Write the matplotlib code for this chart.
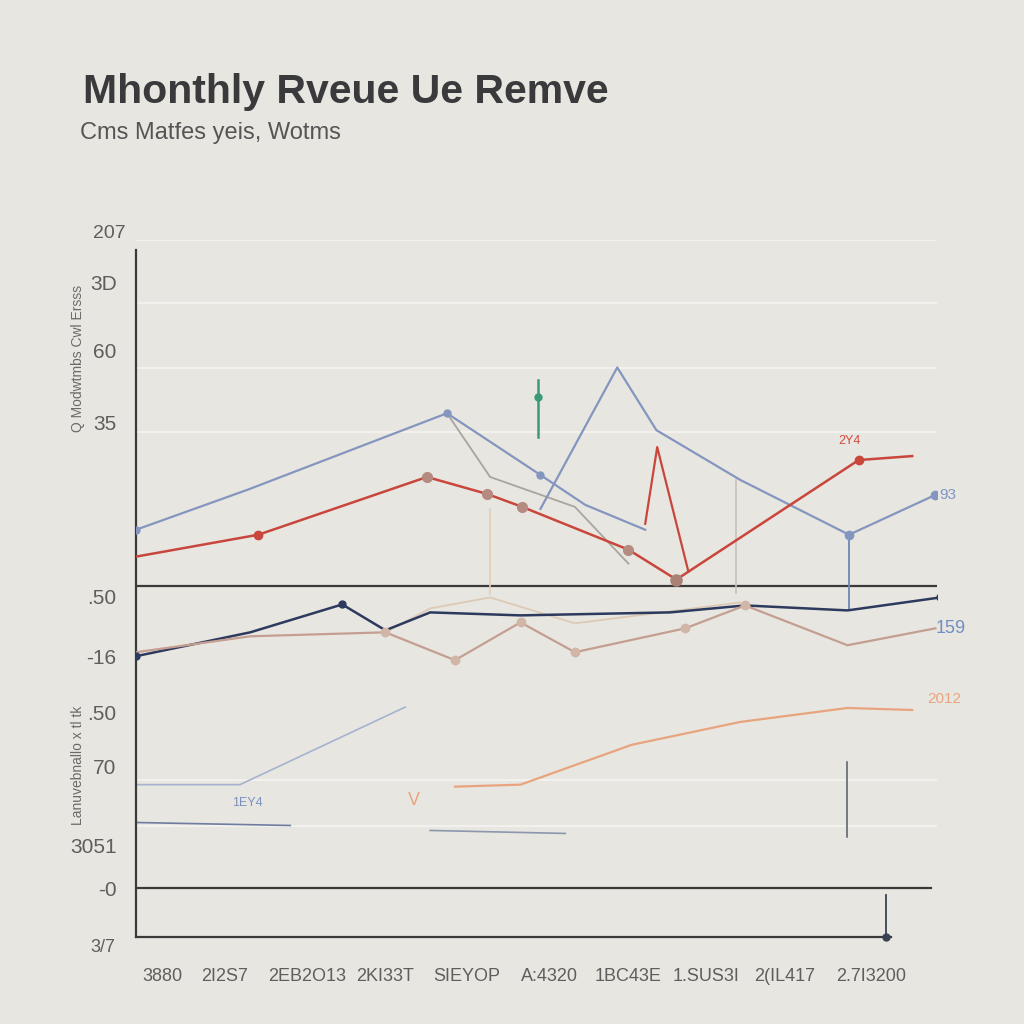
import matplotlib.pyplot as plt

plt.rcParams['font.family'] = ['Liberation Sans', 'DejaVu Sans']

BG = '#e8e6e0'

# months along x (index), revenue values on y
blue_x = [0, 1.39, 3.89, 5.06, 5.62, 6.37]
blue_y = [40.9, 44.9, 52.6, 46.4, 43.4, 40.9]
blue2_x = [5.06, 6.02, 6.51, 7.56, 8.92, 10.0]
blue2_y = [43.0, 57.2, 50.9, 45.9, 40.4, 44.4]

red_x = [0, 1.53, 3.64, 4.39, 4.83, 6.16, 6.76, 9.04, 9.71]
red_y = [38.2, 40.4, 46.2, 44.5, 43.2, 38.9, 35.9, 47.9, 48.3]
red_spike_x = [6.37, 6.52, 6.91]
red_spike_y = [41.5, 49.2, 36.7]

grey_x = [3.89, 4.43, 5.49, 6.16]
grey_y = [52.6, 46.2, 43.2, 37.5]

navy_x = [0, 1.43, 2.58, 3.12, 3.68, 4.81, 6.68, 7.62, 8.90, 10.06]
navy_y = [28.2, 30.6, 33.4, 30.8, 32.6, 32.3, 32.6, 33.3, 32.8, 34.1]

tan_x = [0, 1.43, 3.12, 3.99, 4.81, 5.49, 6.87, 7.62, 8.90, 10.0]
tan_y = [28.6, 30.2, 30.6, 27.8, 31.6, 28.6, 31.0, 33.3, 29.3, 31.0]

beige_x = [3.12, 3.68, 4.43, 5.49, 7.56]
beige_y = [30.6, 33.0, 34.1, 31.5, 33.6]

orange_x = [3.99, 4.81, 6.2, 7.56, 8.90, 9.71]
orange_y = [15.1, 15.3, 19.3, 21.6, 23.0, 22.8]

lblue_x = [0, 1.3, 3.37]
lblue_y = [15.3, 15.3, 23.1]
lblue2_x = [0, 1.93]
lblue2_y = [11.5, 11.2]
lblue3_x = [3.68, 5.37]
lblue3_y = [10.7, 10.4]

green_x = [5.03, 5.03]
green_y = [50.2, 55.9]

ytick_vals = [65.7, 58.9, 51.7, 34.2, 28.2, 22.5, 17.1, 9.2, 4.9]
ytick_labels = ['3D', '60', '35', '.50', '-16', '.50', '70', '3051', '-0']

xtick_vals = [0.33, 1.11, 2.14, 3.12, 4.14, 5.17, 6.15, 7.13, 8.12, 9.19]
xtick_labels = ['3880', '2I2S7', '2EB2O13', '2KI33T', 'SIEYOP', 'A:4320',
                '1BC43E', '1.SUS3I', '2(IL417', '2.7I3200']

grid_vals = [70, 63.7, 57.1, 50.7, 15.8, 11.1]

fig = plt.figure(figsize=(10.24, 10.24), dpi=100, facecolor=BG)
ax = fig.add_axes([136 / 1024, 87 / 1024, 801 / 1024, 697 / 1024])
ax.set_facecolor(BG)
ax.set_xlim(0, 10.02)
ax.set_ylim(0, 70)

for g in grid_vals:
    ax.axhline(g, color='#f5f4f1', lw=1.2, zorder=0)
ax.axhline(35.3, color='#3a3a3a', lw=1.6, zorder=1)
ax.plot([0.02, 9.95], [4.9, 4.9], color='#3a3a3a', lw=1.6, zorder=1)

ax.plot(blue_x, blue_y, color='#8496bf', lw=1.6, marker='o', ms=5,
        markevery=[0, 2, 3], zorder=3)
ax.plot(blue2_x, blue2_y, color='#8496bf', lw=1.6, zorder=3)
ax.plot(blue2_x[4:], blue2_y[4:], 'o', color='#8496bf', ms=6, zorder=4)
ax.plot(grey_x, grey_y, color='#9a948c', lw=1.3, alpha=0.8, zorder=2)
ax.plot(red_x, red_y, color='#c9463d', lw=1.8, marker='o', ms=6,
        markevery=[1, 7], zorder=3)
ax.plot(red_spike_x, red_spike_y, color='#c9463d', lw=1.6, zorder=3)
ax.plot(red_x[2:6], red_y[2:6], 'o', color='#b58a80', ms=7, zorder=4)
ax.plot([6.76], [35.9], 'o', color='#a98275', ms=8, zorder=4)
ax.plot(green_x, green_y, color='#3a9a7a', lw=1.8, zorder=3)
ax.plot([5.03], [54.2], 'o', color='#3a9a7a', ms=5, zorder=4)

ax.plot(navy_x, navy_y, color='#2c3a5e', lw=1.8, zorder=3)
ax.plot([0, 2.58, 10.06], [28.2, 33.4, 34.1], 'o', color='#2c3a5e', ms=5, zorder=4)
ax.plot(tan_x, tan_y, color='#c49f91', lw=1.6, zorder=3)
ax.plot(tan_x[2:8], tan_y[2:8], 'o', color='#d1b5a6', ms=6, zorder=4)
ax.plot(beige_x, beige_y, color='#dccab6', lw=1.3, zorder=2)

ax.plot(orange_x, orange_y, color='#e8a47e', lw=1.6, zorder=3)
ax.plot(lblue_x, lblue_y, color='#a6b2cf', lw=1.2, zorder=2)
ax.plot(lblue2_x, lblue2_y, color='#6f7da0', lw=1.2, zorder=2)
ax.plot(lblue3_x, lblue3_y, color='#8c96ad', lw=1.2, zorder=2)

# faint vertical leaders
ax.plot([8.92, 8.92], [40.4, 32.8], color='#6f86b5', lw=1.3, zorder=2)
ax.plot([8.90, 8.90], [17.6, 10.0], color='#555b66', lw=1.1, zorder=2)
ax.plot([4.43, 4.43], [43.0, 34.4], color='#e2cdb9', lw=1.2, zorder=2)
ax.plot([7.5, 7.5], [45.9, 34.5], color='#c8c1bb', lw=1.2, zorder=2)
ax.plot([9.38, 9.38], [4.2, 0], color='#3a4256', lw=1.3, zorder=2)
ax.plot([9.38], [0], 'o', color='#3a4256', ms=5, zorder=4, clip_on=False)

ax.text(8.92, 49.5, '2Y4', color='#d0493f', fontsize=9, ha='center')
ax.text(10.05, 44.0, '93', color='#7d95c4', fontsize=11, ha='left')
ax.text(10.0, 30.5, '159', color='#6f8fc4', fontsize=13, ha='left')
ax.text(9.9, 23.5, '2012', color='#e8a47e', fontsize=11, ha='left')
ax.text(1.2, 13.2, '1EY4', color='#7d8fbd', fontsize=9, ha='left')
ax.text(3.4, 13.3, 'V', color='#e8a47e', fontsize=13, ha='left')

for s in ['top', 'right']:
    ax.spines[s].set_visible(False)
ax.spines['left'].set_color('#3a3a3a')
ax.spines['left'].set_linewidth(1.6)
ax.spines['left'].set_bounds(0, 69)
ax.spines['bottom'].set_color('#3a3a3a')
ax.spines['bottom'].set_linewidth(1.6)
ax.spines['bottom'].set_bounds(0, 9.45)

ax.set_yticks(ytick_vals)
ax.set_yticklabels(ytick_labels, fontsize=15, color='#5e5e5e')
ax.set_xticks(xtick_vals)
ax.set_xticklabels(xtick_labels, fontsize=13, color='#5e5e5e')
ax.tick_params(length=0, pad=14)
ax.tick_params(axis='x', pad=22)

fig.text(93 / 1024, 1 - 233 / 1024, '207', fontsize=14, color='#5e5e5e',
         ha='left', va='center')
fig.text(90 / 1024, 1 - 948 / 1024, '3/7', fontsize=13, color='#5e5e5e',
         ha='left', va='center')
fig.text(78 / 1024, 1 - 358 / 1024, 'Q Modwtmbs Cwl Ersss', rotation=90,
         fontsize=10, color='#6a6a6a', ha='center', va='center')
fig.text(78 / 1024, 1 - 765 / 1024, 'Lanuvebnallo x tl tk', rotation=90,
         fontsize=10, color='#6a6a6a', ha='center', va='center')

fig.text(83 / 1024, 1 - 92 / 1024, 'Mhonthly Rveue Ue Remve', fontsize=29.5,
         fontweight='bold', color='#3a3a3d', ha='left', va='center')
fig.text(80 / 1024, 1 - 133 / 1024, 'Cms Matfes yeis, Wotms', fontsize=17,
         color='#555555', ha='left', va='center')

fig.savefig('out.png', dpi=100, facecolor=BG)
